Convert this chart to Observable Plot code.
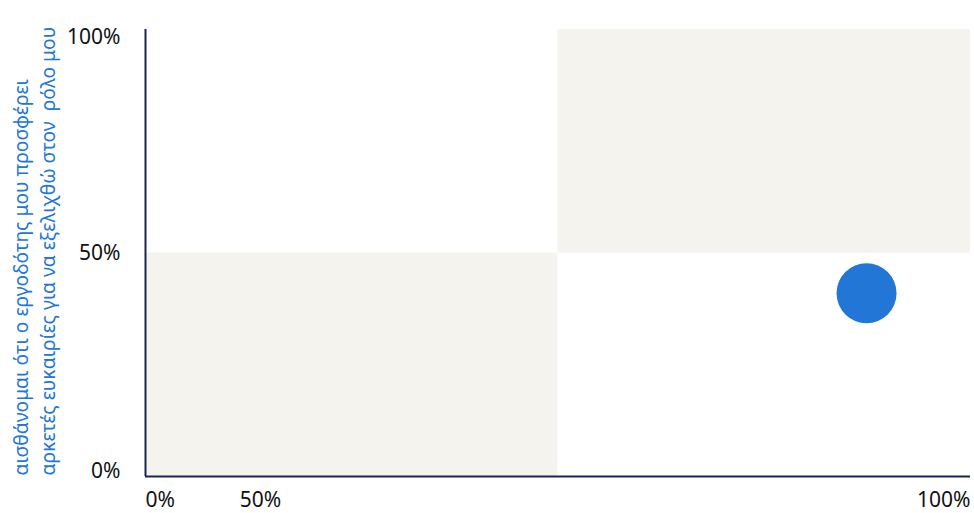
<!DOCTYPE html>
<html>
<head>
<meta charset="utf-8">
<script src="https://cdn.jsdelivr.net/npm/d3@7"></script>
<script src="https://cdn.jsdelivr.net/npm/@observablehq/plot@0.6"></script>
<style>
  html, body { margin: 0; padding: 0; background: #ffffff; }
  #chart svg { display: block; }
</style>
</head>
<body>
<div id="chart"></div>
<script>
// Quadrant backgrounds (shares, 0..1)
const quadX1 = [0, 0.5];
const quadX2 = [0.5, 1];
const quadY1 = [0, 0.5];
const quadY2 = [0.5, 1];

// Single data point
const pointX = [0.874];
const pointY = [0.41];

// Tick labels
const tickValues = [0, 0.5, 1];
const tickLabels = ["0%", "50%", "100%"];

// Axis title (two lines)
const yTitleLines = [
  "αισθάνομαι ότι ο εργοδότης μου προσφέρει",
  "αρκετές ευκαιρίες για να εξελιχθώ στον  ρόλο μου"
];

const quads = quadX1.map((x1, i) => ({x1, x2: quadX2[i], y1: quadY1[i], y2: quadY2[i]}));
const points = pointX.map((x, i) => ({x, y: pointY[i]}));
const ticks = tickValues.map((v, i) => ({v, label: tickLabels[i]}));

const font = "'Noto Sans', sans-serif";
const axisColor = "#1b2550";
const textColor = "#111111";
const fs = 21;

const chart = Plot.plot({
  width: 974,
  height: 513,
  marginLeft: 145,
  marginRight: 4,
  marginTop: 29,
  marginBottom: 37,
  x: {domain: [0, 1], axis: null},
  y: {domain: [0, 1], axis: null},
  style: {fontFamily: font, fontSize: "20px", background: "#ffffff", overflow: "visible"},
  marks: [
    Plot.rect(quads, {x1: "x1", x2: "x2", y1: "y1", y2: "y2", fill: "#f5f3ee"}),
    Plot.dot(points, {x: "x", y: "y", r: 30, fill: "#2176d6", stroke: "none"}),
    Plot.ruleX([0], {stroke: axisColor, strokeWidth: 2}),
    Plot.ruleY([0], {stroke: axisColor, strokeWidth: 2}),
    // Y tick labels
    Plot.text(ticks.filter(d => d.v === 1), {x: 0, y: "v", text: "label", textAnchor: "end", lineAnchor: "top", dx: -25, dy: 0, fill: textColor, fontSize: fs}),
    Plot.text(ticks.filter(d => d.v === 0.5), {x: 0, y: "v", text: "label", textAnchor: "end", lineAnchor: "middle", dx: -25, fill: textColor, fontSize: fs}),
    Plot.text(ticks.filter(d => d.v === 0), {x: 0, y: "v", text: "label", textAnchor: "end", lineAnchor: "bottom", dx: -25, dy: 1, fill: textColor, fontSize: fs}),
    // X tick labels
    Plot.text(ticks.filter(d => d.v === 0), {x: "v", y: 0, text: "label", textAnchor: "start", lineAnchor: "middle", dy: 24, fill: textColor, fontSize: fs}),
    Plot.text(ticks.filter(d => d.v === 0.5), {x: 0, y: 0, text: "label", textAnchor: "middle", lineAnchor: "middle", dx: 115, dy: 24, fill: textColor, fontSize: fs}),
    Plot.text(ticks.filter(d => d.v === 1), {x: "v", y: 0, text: "label", textAnchor: "end", lineAnchor: "middle", dy: 24, fill: textColor, fontSize: fs}),
    // Y axis title
    Plot.text([yTitleLines.join("\n")], {x: 0, y: 0, text: d => d, rotate: -90, textAnchor: "start", lineAnchor: "middle", lineHeight: 1.4, dx: -113, dy: -1, fill: "#2176d6", fontSize: 19.3})
  ]
});

document.getElementById("chart").appendChild(chart);
</script>
</body>
</html>
